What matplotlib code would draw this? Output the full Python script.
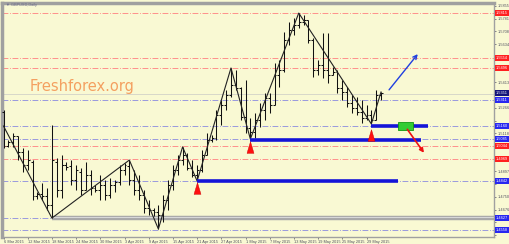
import numpy as np
import matplotlib.pyplot as plt
from matplotlib.patches import Rectangle

### Data: GBPUSD daily bars ###
highs = [1.5253, 1.5079, 1.5120, 1.5102, 1.5033, 1.5021, 1.4963, 1.4778, 1.4830, 1.4801,
         1.5166, 1.4975, 1.4992, 1.4952, 1.4963, 1.4934, 1.4917, 1.4952, 1.4905, 1.4819,
         1.4876, 1.4848, 1.4859, 1.4848, 1.4934, 1.4946, 1.4963, 1.4905, 1.4876, 1.4790,
         1.4732, 1.4685, 1.4703, 1.4761, 1.4848, 1.4934, 1.4992, 1.5039, 1.5004, 1.4963,
         1.4934, 1.5021, 1.5120, 1.5108, 1.5253, 1.5311, 1.5369, 1.5496, 1.5484, 1.5386,
         1.5427, 1.5206, 1.5235, 1.5293, 1.5351, 1.5351, 1.5525, 1.5542, 1.5704, 1.5762,
         1.5785, 1.5814, 1.5803, 1.5774, 1.5670, 1.5542, 1.5699, 1.5699, 1.5502, 1.5484,
         1.5427, 1.5386, 1.5340, 1.5328, 1.5311, 1.5282, 1.5253, 1.5369, 1.5357]
lows = [1.5033, 1.5039, 1.5039, 1.4963, 1.4894, 1.4905, 1.4732, 1.4737, 1.4732, 1.4674,
        1.4627, 1.4749, 1.4743, 1.4905, 1.4819, 1.4790, 1.4761, 1.4790, 1.4761, 1.4778,
        1.4732, 1.4732, 1.4743, 1.4778, 1.4819, 1.4876, 1.4819, 1.4761, 1.4732, 1.4656,
        1.4645, 1.4639, 1.4564, 1.4604, 1.4674, 1.4790, 1.4876, 1.4934, 1.4905, 1.4865,
        1.4842, 1.4894, 1.4992, 1.5068, 1.5079, 1.5166, 1.5253, 1.5328, 1.5369, 1.5195,
        1.5120, 1.5085, 1.5091, 1.5154, 1.5195, 1.5235, 1.5282, 1.5386, 1.5473, 1.5629,
        1.5687, 1.5728, 1.5745, 1.5641, 1.5444, 1.5455, 1.5438, 1.5409, 1.5455, 1.5351,
        1.5311, 1.5270, 1.5235, 1.5224, 1.5178, 1.5195, 1.5172, 1.5195, 1.5311]
opens = [1.5241, 1.5044, 1.5068, 1.5102, 1.5010, 1.4934, 1.4952, 1.4755, 1.4766, 1.4755,
         1.4703, 1.4952, 1.4790, 1.4934, 1.4929, 1.4848, 1.4894, 1.4790, 1.4876, 1.4801,
         1.4790, 1.4819, 1.4761, 1.4819, 1.4836, 1.4905, 1.4929, 1.4848, 1.4790, 1.4761,
         1.4685, 1.4674, 1.4662, 1.4645, 1.4732, 1.4819, 1.4905, 1.4963, 1.4992, 1.4917,
         1.4876, 1.4905, 1.4992, 1.5079, 1.5091, 1.5224, 1.5282, 1.5340, 1.5398, 1.5380,
         1.5212, 1.5149, 1.5125, 1.5195, 1.5253, 1.5322, 1.5282, 1.5455, 1.5484, 1.5658,
         1.5716, 1.5745, 1.5762, 1.5774, 1.5658, 1.5484, 1.5513, 1.5484, 1.5455, 1.5473,
         1.5380, 1.5357, 1.5293, 1.5264, 1.5241, 1.5206, 1.5224, 1.5195, 1.5340]
closes = [1.5044, 1.5068, 1.5102, 1.5010, 1.4934, 1.4963, 1.4755, 1.4766, 1.4755, 1.4703,
          1.4963, 1.4790, 1.4934, 1.4923, 1.4848, 1.4905, 1.4790, 1.4876, 1.4801, 1.4790,
          1.4819, 1.4761, 1.4819, 1.4836, 1.4905, 1.4934, 1.4848, 1.4790, 1.4761, 1.4685,
          1.4674, 1.4662, 1.4645, 1.4732, 1.4819, 1.4905, 1.4963, 1.4992, 1.4917, 1.4876,
          1.4905, 1.4992, 1.5079, 1.5091, 1.5224, 1.5282, 1.5340, 1.5398, 1.5380, 1.5212,
          1.5149, 1.5125, 1.5195, 1.5253, 1.5322, 1.5282, 1.5455, 1.5484, 1.5658, 1.5716,
          1.5745, 1.5762, 1.5774, 1.5658, 1.5484, 1.5513, 1.5484, 1.5455, 1.5473, 1.5380,
          1.5357, 1.5293, 1.5264, 1.5241, 1.5206, 1.5224, 1.5195, 1.5340, 1.5351]

date_labels = ['6 Mar 2015', '12 Mar 2015', '18 Mar 2015', '24 Mar 2015', '30 Mar 2015',
               '3 Apr 2015', '9 Apr 2015', '15 Apr 2015', '21 Apr 2015', '27 Apr 2015',
               '1 May 2015', '7 May 2015', '13 May 2015', '19 May 2015', '25 May 2015',
               '29 May 2015']
date_every = 5

price_ticks = [1.5855, 1.5781, 1.5708, 1.5634, 1.5560, 1.5487, 1.5413, 1.5339, 1.5266,
               1.5192, 1.5118, 1.5044, 1.4971, 1.4897, 1.4823, 1.4750, 1.4676, 1.4602, 1.4529]

# zigzag turning points (bar, price)
zz_bars = [0, 10, 26, 32, 37, 40, 47, 51, 61, 76, 78]
zz_prices = [1.5160, 1.4627, 1.4963, 1.4564, 1.5039, 1.4842, 1.5496, 1.5085, 1.5814, 1.5172, 1.5357]

red_levels = [1.5815, 1.5554, 1.5496, 1.5044, 1.4969]
blue_levels = [1.5311, 1.5160, 1.5085, 1.4842, 1.4627, 1.4558]
bid = closes[-1]

# thick support lines: (start bar, end bar, price)
support_start = [40, 51, 76]
support_end = [81.6, 86.2, 87.8]
support_price = [1.4842, 1.5079, 1.5160]
gray_start, gray_price = 10, 1.4627

signal_bars = [40, 51, 76]
signal_prices = [1.4801, 1.5039, 1.5108]

box_bar, box_w = 81.6, 3.1
box_lo, box_hi = 1.5137, 1.5183

down_from, down_to = (83.1, 1.5154), (87.2, 1.4992)
up_from, up_to = (79.3, 1.5357), (85.95, 1.5589)

small = ['Liberation Sans', 'DejaVu Sans']
bg = '#F9F9D3'
W, H = 510, 244
fig = plt.figure(figsize=(W / 100, H / 100), dpi=100, facecolor=bg)
ax = fig.add_axes([2 / W, 1 - 237 / H, 492 / W, 234 / H], facecolor=bg)
ax.set_xlim(-0.31, 101.34)
ax.set_ylim(1.45175, 1.58723)

x = np.arange(len(highs))

# levels
for p in red_levels:
    ax.axhline(p, color='#FF8080', lw=0.6, ls=(0, (7, 2, 1, 2)), zorder=1)
for p in blue_levels:
    ax.axhline(p, color='#8A8AE0', lw=0.6, ls=(0, (7, 2, 1, 2)), zorder=1)
ax.axhline(bid - 0.0006, color='#D2D2C8', lw=0.6, zorder=1)

# gray support
ax.hlines(gray_price, gray_start, 101.34, color='#A8A8A8', lw=3.2, zorder=2)
ax.hlines(gray_price + 0.0005, gray_start, 101.34, color='#D8D8D8', lw=0.8, zorder=2)

# bars
ax.vlines(x, lows, highs, color='#111111', lw=0.75, zorder=3)
ax.hlines(opens, x - 0.4, x, color='#111111', lw=0.75, zorder=3)
ax.hlines(closes, x, x + 0.4, color='#111111', lw=0.75, zorder=3)

# zigzag
ax.plot(zz_bars, zz_prices, color='#222222', lw=0.8, zorder=4)

# blue supports
ax.hlines(support_price, support_start, support_end, color='#1414D8', lw=2.6, zorder=5)

# signals
tri = [(-0.3, -0.5), (0.3, -0.5), (0, 0.5), (-0.3, -0.5)]
ax.scatter(signal_bars, signal_prices, marker=tri, s=70, color='#FF1010',
           edgecolors='#CC0000', linewidths=0.3, zorder=6)

ax.add_patch(Rectangle((box_bar, box_lo), box_w, box_hi - box_lo, fc='#33CC33',
                       ec='#119911', lw=0.6, zorder=6))
ax.annotate('', xy=down_to, xytext=down_from,
            arrowprops=dict(arrowstyle='-|>', color='#EE1111', lw=1.2, mutation_scale=6), zorder=7)
ax.annotate('', xy=up_to, xytext=up_from,
            arrowprops=dict(arrowstyle='->', color='#2040E0', lw=1.0, mutation_scale=7), zorder=7)

# axes
for s in ax.spines.values():
    s.set_color('#A0A0A0')
    s.set_linewidth(1.0)
ax.spines['left'].set_linewidth(2.5)
ax.spines['top'].set_linewidth(2.5)

tags = red_levels + blue_levels + [bid]
ax.yaxis.tick_right()
ax.set_yticks(price_ticks)
ax.set_yticklabels(['' if min(abs(p - t) for t in tags) < 0.0033 else f'{p:.4f}'
                    for p in price_ticks], family=small)
ax.tick_params(axis='y', length=1.5, width=0.5, pad=1.5, labelsize=2.8,
               colors='#505060')
ax.set_xticks(np.arange(len(date_labels)) * date_every)
ax.set_xticklabels(date_labels, ha='left', family=small)
ax.tick_params(axis='x', length=1.5, width=0.5, pad=0.8, labelsize=2.8,
               colors='#505060')

def tag(p, color):
    ax.annotate(f'{p:.4f}', xy=(1, p), xycoords=('axes fraction', 'data'),
                xytext=(1.2, 0), textcoords='offset points', ha='left', va='center',
                fontsize=2.8, family=small, color='white', zorder=8,
                bbox=dict(boxstyle='square,pad=0.25', fc=color, ec='none'),
                annotation_clip=False)

for p in red_levels:
    tag(p, '#FF2020')
for p in blue_levels:
    tag(p, '#2828F0')
tag(bid, '#14147A')

fig.text(30 / W, 1 - 87 / H, 'Freshforex.org', fontsize=10.5, color='#F4A060',
         ha='left', va='center')
fig.text(6 / W, 1 - 5 / H, '\u25bc GBPUSD,Daily', fontsize=2.8, color='#6A6A8A',
         ha='left', va='center', family=small)

fig.savefig('out.png', dpi=100, facecolor=bg)
